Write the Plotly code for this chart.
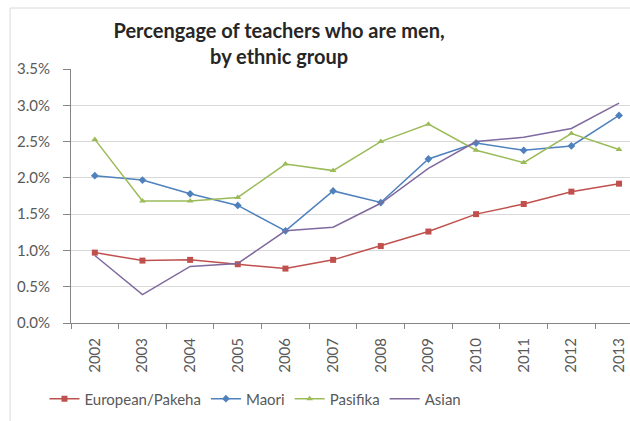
import plotly.graph_objects as go

years = ["2002", "2003", "2004", "2005", "2006", "2007",
         "2008", "2009", "2010", "2011", "2012", "2013"]
european = [0.97, 0.86, 0.87, 0.81, 0.75, 0.87, 1.06, 1.26, 1.50, 1.64, 1.81, 1.92]
maori = [2.03, 1.97, 1.78, 1.62, 1.27, 1.82, 1.66, 2.26, 2.48, 2.38, 2.44, 2.86]
pasifika = [2.53, 1.68, 1.68, 1.73, 2.19, 2.10, 2.50, 2.74, 2.38, 2.21, 2.61, 2.39]
asian = [0.93, 0.39, 0.78, 0.82, 1.27, 1.32, 1.65, 2.13, 2.50, 2.56, 2.68, 3.03]

series = [
    ("European/Pakeha", european, "#c0504d", "square", 6),
    ("Maori", maori, "#4f81bd", "diamond", 6),
    ("Pasifika", pasifika, "#9bbb59", "triangle-up", 6),
    ("Asian", asian, "#7f6a9e", None, 0),
]

font = "Lato, Open Sans, sans-serif"

fig = go.Figure()
for name, vals, color, symbol, size in series:
    fig.add_trace(go.Scatter(
        x=years, y=[v / 100 for v in vals], name=name,
        mode="lines+markers" if symbol else "lines",
        line=dict(color=color, width=1.5),
        marker=dict(symbol=symbol or "circle", size=size, color=color),
    ))

fig.update_layout(
    width=630, height=421,
    paper_bgcolor="white", plot_bgcolor="white",
    margin=dict(l=71, r=0, t=69, b=98),
    font=dict(family=font, size=15, color="#595959"),
    title=dict(
        text="Percengage of teachers who are men,<br>by ethnic group",
        x=0.443, xanchor="center", y=0.91, yanchor="middle",
        font=dict(family=font, size=20, color="#262626", weight="bold"),
    ),
    legend=dict(
        orientation="h", x=0.33, xanchor="center", y=-0.299, yanchor="middle",
        font=dict(size=15, color="#595959"), itemwidth=30,
    ),
    shapes=[dict(type="rect", xref="paper", yref="paper",
                 x0=-0.109, x1=1.05, y0=-0.45, y1=1.24,
                 line=dict(color="#d9d9d9", width=1))],
)
fig.update_xaxes(
    type="category", range=[-0.5, 11.23], tickangle=-90,
    showline=True, linecolor="#868686", ticks="outside", ticklen=5,
    tickcolor="#868686", tickson="boundaries", showgrid=False,
    ticklabelstandoff=8,
)
fig.update_yaxes(
    range=[0, 0.035], dtick=0.005, tickformat=".1%",
    showline=True, linecolor="#868686", ticks="outside", ticklen=7,
    tickcolor="#868686", gridcolor="#d9d9d9", zeroline=False,
    ticklabelstandoff=10,
)

fig.write_html("out.html", config={"displayModeBar": False},
               post_script="document.body.style.margin='0';")
